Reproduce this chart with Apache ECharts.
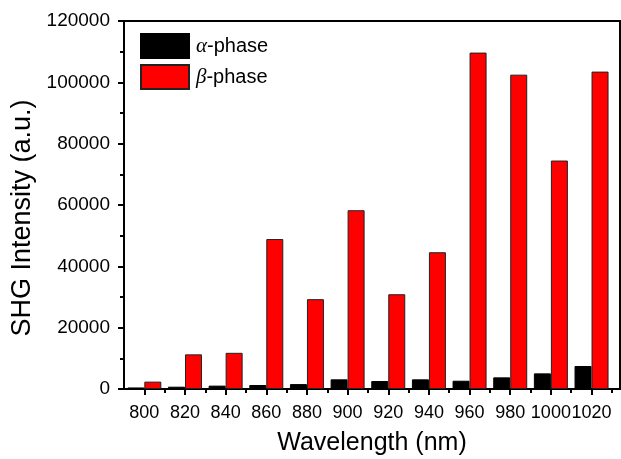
<!DOCTYPE html>
<html>
<head>
<meta charset="utf-8">
<script src="https://cdn.jsdelivr.net/npm/echarts@6/dist/echarts.min.js"></script>
<style>html,body{margin:0;padding:0;background:#fff;}#c{width:621px;height:459px;}</style>
</head>
<body>
<div id="c"></div>
<script>
const wavelengths = [800, 820, 840, 860, 880, 900, 920, 940, 960, 980, 1000, 1020];
const alphaPhase = [500, 750, 1100, 1300, 1600, 3150, 2600, 3150, 2700, 3800, 5100, 7500];
const betaPhase = [2400, 11300, 11800, 48900, 29300, 58300, 30900, 44600, 109700, 102500, 74500, 103500];
const minorXTicks = [810, 830, 850, 870, 890, 910, 930, 950, 970, 990, 1010, 1030];
const seriesNames = ['α-phase', 'β-phase'];

const font = 'Liberation Sans, Arial, sans-serif';
const chart = echarts.init(document.getElementById('c'), null, {renderer: 'canvas'});
const pairs = (ys) => wavelengths.map((w, i) => [w, ys[i]]);

chart.setOption({
  animation: false,
  backgroundColor: '#fff',
  grid: {left: 124, right: 1, top: 21, bottom: 70, containLabel: false, outerBoundsMode: 'none',
    show: true, borderColor: '#000', borderWidth: 2, backgroundColor: 'transparent'},
  legend: {
    orient: 'vertical', left: 135, top: 28, itemWidth: 48, itemHeight: 24, itemGap: 5,
    icon: 'rect',
    data: seriesNames,
    formatter: (n) => '{g|' + n[0] + '}' + n.slice(1),
    textStyle: {fontFamily: font, fontSize: 20, color: '#000', padding: [0, 0, 0, 2],
      rich: {g: {fontFamily: 'Liberation Serif, Times New Roman, serif', fontStyle: 'italic', fontSize: 21, color: '#000'}}}
  },
  xAxis: [{
    type: 'value', min: 790, max: 1034,
    name: 'Wavelength (nm)', nameLocation: 'middle', nameGap: 42,
    nameTextStyle: {fontFamily: font, fontSize: 25, color: '#000'},
    axisLine: {show: true, lineStyle: {color: '#000', width: 2}},
    axisTick: {show: true, customValues: wavelengths, length: 6, lineStyle: {color: '#000', width: 2}},
    axisLabel: {customValues: wavelengths, fontFamily: font, fontSize: 18, color: '#000', margin: 15,
      hideOverlap: false, showMaxLabel: true, showMinLabel: true, formatter: (v) => String(v)},
    splitLine: {show: false}
  }, {
    type: 'value', min: 790, max: 1034, position: 'bottom',
    axisLine: {show: false},
    axisTick: {show: true, customValues: minorXTicks, length: 4, lineStyle: {color: '#000', width: 2}},
    axisLabel: {show: false},
    splitLine: {show: false}
  }],
  yAxis: {
    type: 'value', min: 0, max: 120000, interval: 20000,
    name: 'SHG Intensity (a.u.)', nameLocation: 'middle', nameGap: 84,
    nameTextStyle: {fontFamily: font, fontSize: 27, color: '#000', padding: [0, 26, 0, 0]},
    axisLine: {show: true, lineStyle: {color: '#000', width: 2}},
    axisTick: {show: true, length: 6, lineStyle: {color: '#000', width: 2}},
    minorTick: {show: true, splitNumber: 2, length: 4, lineStyle: {color: '#000', width: 2}},
    axisLabel: {fontFamily: font, fontSize: 19, color: '#000', margin: 14, formatter: (v) => String(v)},
    splitLine: {show: false}, minorSplitLine: {show: false}
  },
  series: [{
    name: seriesNames[0], type: 'bar', xAxisIndex: 0, barWidth: 17, barGap: '0%',
    data: pairs(alphaPhase),
    itemStyle: {color: '#000', borderColor: '#000', borderWidth: 1}
  }, {
    name: seriesNames[1], type: 'bar', xAxisIndex: 0, barWidth: 17, barGap: '0%',
    data: pairs(betaPhase),
    itemStyle: {color: '#ff0000', borderColor: '#222', borderWidth: 1}
  }]
});
</script>
</body>
</html>
